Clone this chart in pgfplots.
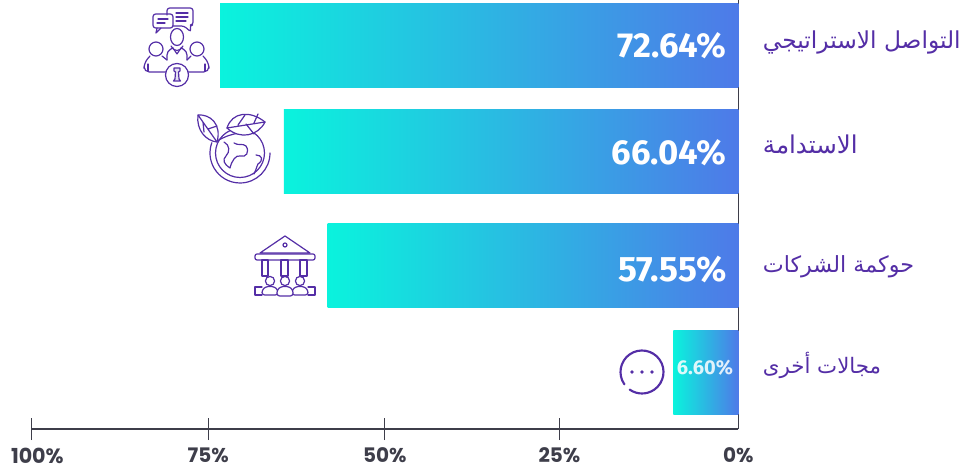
\documentclass[border=0pt]{standalone}
\usepackage{fontspec}
\usepackage{pgfplots}
\pgfplotsset{compat=1.18}
\setmainfont{Poppins}
\TeXXeTstate=1
\newfontfamily\arabicfont[Script=Arabic]{DejaVu Sans}
\newfontfamily\valfont{Fira Sans}
\definecolor{barL}{RGB}{10,243,221}
\definecolor{barR}{RGB}{78,122,232}
\definecolor{purp}{RGB}{84,46,166}
\definecolor{axc}{RGB}{62,62,74}
\newcommand{\ar}[1]{{\arabicfont\beginR #1\endR}}
\pgfplotsset{gb/.style={xbar,bar shift=0pt,bar width=63.5pt,draw=none,left color=barL,right color=barR,forget plot}}
\begin{document}
\begin{tikzpicture}[x=0.75pt,y=-0.75pt]
\path[use as bounding box] (0,0) rectangle (965,473);
\begin{axis}[
  at={(31,429)},anchor=south west,xshift=187.9pt,
  scale only axis,width=530.25pt,height=321.75pt,
  x dir=reverse,y dir=reverse,
  xmin=0,xmax=100,ymin=0,ymax=429,
  clip=false,
  axis x line*=bottom,axis y line*=right,
  axis line style={draw=axc,line width=1pt,-},
  ytick=\empty,
  xtick={100,75,50,25.3},
  xticklabels={\raisebox{-3pt}{\hspace*{9pt}\fontsize{15.5}{17}\selectfont 100\%},75\%,50\%,25\%},
  extra x ticks={0},
  extra x tick labels={0\%},
  extra x tick style={major tick length=0pt,xticklabel style={yshift=-8.25pt}},
  tick align=center,
  major tick length=16.5pt,
  tick style={draw=axc,line width=0.8pt},
  xticklabel style={font=\bfseries\fontsize{15}{17}\selectfont,text=axc,yshift=-2.5pt},
]
\addplot[gb] coordinates {(73.3,45.5)};
\addplot[gb] coordinates {(64.3,151.5)};
\addplot[gb] coordinates {(58.1,265.5)};
\addplot[gb] coordinates {(9.2,372.5)};
\node[anchor=east,text=white,font=\valfont\bfseries\fontsize{26}{28}\selectfont] at (axis cs:1,46) {72.64\%};
\node[anchor=east,text=white,font=\valfont\bfseries\fontsize{26}{28}\selectfont] at (axis cs:1,153) {66.04\%};
\node[anchor=east,text=white,font=\valfont\bfseries\fontsize{26.5}{28}\selectfont] at (axis cs:1,269) {57.55\%};
\node[anchor=east,text=white,opacity=.85,font=\valfont\bfseries\fontsize{15}{17}\selectfont] at (axis cs:0.1,368) {6.60\%};
\node[anchor=west,text=purp,font=\fontsize{17.5}{20}\selectfont] at (axis cs:-2.8,42) {\ar{التواصل الاستراتيجي}};
\node[anchor=west,text=purp,font=\fontsize{18.4}{20}\selectfont] at (axis cs:-2.8,144) {\ar{الاستدامة}};
\node[anchor=west,text=purp,font=\fontsize{16.7}{20}\selectfont] at (axis cs:-2.8,267) {\ar{حوكمة الشركات}};
\node[anchor=west,text=purp,font=\fontsize{16}{20}\selectfont] at (axis cs:-2.8,365) {\ar{مجالات أخرى}};
\end{axis}
\begin{scope}[draw=purp,line width=0.9pt,line join=round,line cap=round]
% icon 1: people
\draw[rounded corners=2] (167,15) -- (167,8) -- (193,8) -- (193,25) -- (190,25) -- (191,32) -- (184,26) -- (173,26);
\draw[rounded corners=2] (153,14) rectangle (173,28);
\draw (157,28) -- (156,33) -- (161,28);
\draw (158,19)--(168,19) (157,23)--(165,23) (176,13)--(188,13) (176,17)--(188,17) (176,21)--(186,21);
\draw (177,37) ellipse (6.5 and 8.5);
\draw (171,46) .. controls (174,52) and (180,52) .. (183,46);
\draw[rounded corners=3] (167,60) -- (167,51) -- (173,48) (181,48) -- (187,51) -- (187,60);
\draw (177,54) -- (173,48) (177,54) -- (181,48);
\draw (156,49) circle (7); \draw (197,49) circle (7);
\draw[rounded corners=4] (166,72) -- (144,72) -- (144,63) -- (150,56) (162,56) -- (167,60);
\draw[rounded corners=4] (186,72) -- (209,72) -- (209,63) -- (203,56) (191,56) -- (187,60);
\draw (148,64)--(148,71) (205,64)--(205,71);
\draw[fill=white] (177,75) circle (11.5);
\draw[fill=purp!15] (174,68) -- (174,71) -- (175.5,72) -- (175,79) -- (173.5,81) -- (180.5,81) -- (179,79) -- (178.5,72) -- (180,71) -- (180,68) -- cycle;
% icon 2: globe
\draw (240,153) circle (24.5);
\draw (270,153) arc[start angle=0,end angle=200,radius=30];
\draw (217,141) .. controls (226,136) and (232,134) .. (240,133);
\draw (224,142) .. controls (230,145) and (230,152) .. (226,156) .. controls (222,160) and (224,164) .. (230,168) .. controls (232,160) and (236,155) .. (240,156) .. controls (246,158) and (250,152) .. (246,146) .. controls (243,143) and (238,146) .. (234,143);
\draw (256,155) .. controls (262,155) and (264,160) .. (258,164) .. controls (256,168) and (256,171) .. (254,174);
\draw[fill=white] (198,115) .. controls (210,114) and (222,124) .. (217,142) .. controls (206,141) and (196,130) .. (198,115) -- cycle;
\draw (198,115) -- (217,142) (203,122)--(204,132) (208,129)--(217,126);
\draw[fill=white] (227,128) .. controls (232,112) and (250,110) .. (265,122) .. controls (258,136) and (240,140) .. (227,128) -- cycle;
\draw (227,128) -- (265,122) (238,125) -- (245,115) (246,124) -- (254,134) (254,123)--(258,114);
% icon 3: bank
\draw (260,253) -- (285,236) -- (310,253) -- cycle;
\draw (285,245) circle (2);
\draw[rounded corners=1.5] (255,254) rectangle (315,260);
\foreach \a/\b in {262/268,281/288,300/307}{\draw (\a,260) rectangle (\b,276);}
\draw (262,287)--(255,287)--(255,295)--(262,295) (308,287)--(315,287)--(315,295)--(308,295);
\foreach \c in {270,285,300}{\draw[fill=white] (\c,281) circle (4.6);}
\draw[fill=white,rounded corners=2] (262,295) -- (262,290) -- (266,286.5) -- (274,286.5) -- (278,290) -- (278,295) -- cycle;
\draw[fill=white,rounded corners=2] (292,295) -- (292,290) -- (296,286.5) -- (304,286.5) -- (308,290) -- (308,295) -- cycle;
\draw[fill=white,rounded corners=2] (277,296) -- (277,290) -- (281,286.5) -- (289,286.5) -- (293,290) -- (293,296) -- cycle;
% icon 4: dots
\draw[line width=1.6pt] (642,372) ++(145:21.5) arc[start angle=145,end angle=485,radius=21.5];
\fill[purp] (632,372) circle (1.8) (642,372) circle (1.8) (652,372) circle (1.8);
\end{scope}
\end{tikzpicture}
\end{document}
